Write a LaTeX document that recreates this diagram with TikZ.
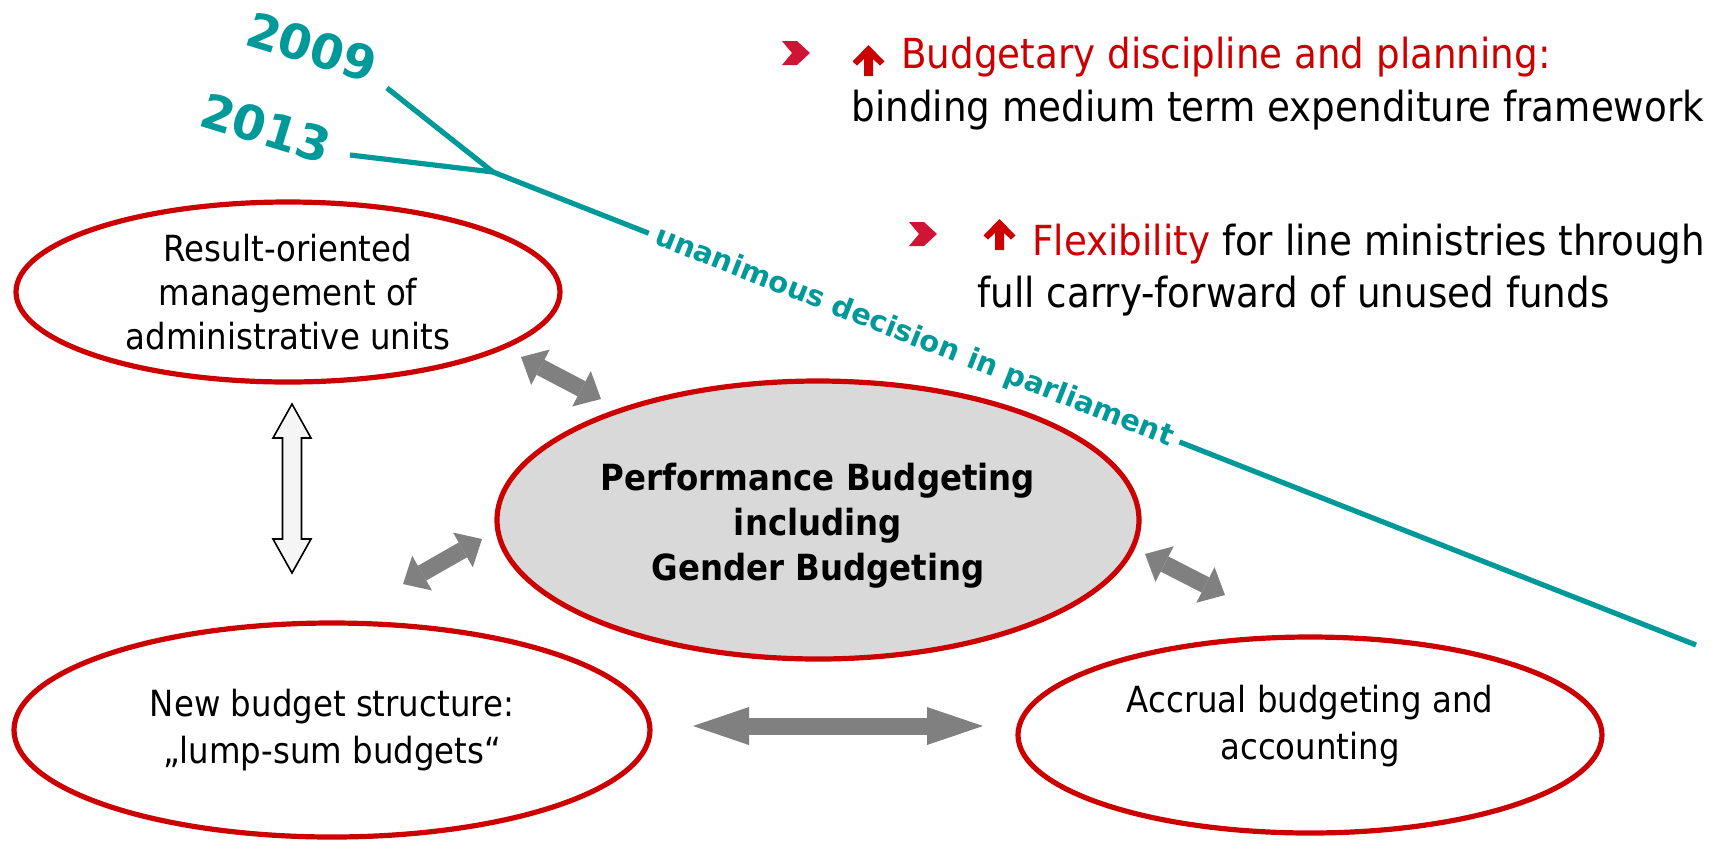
\documentclass[tikz,border=0pt]{standalone}
\usepackage{fontspec}
\setmainfont{DejaVu Sans}[FakeStretch=0.9]
\newfontfamily\widefont{DejaVu Sans}
\usetikzlibrary{arrows.meta,shapes.geometric}

\definecolor{ovalred}{HTML}{CC0000}
\definecolor{chevred}{HTML}{D01436}
\definecolor{parlteal}{HTML}{009999}
\definecolor{coregray}{HTML}{D9D9D9}
\definecolor{linkgray}{HTML}{808080}

\begin{document}
\begin{tikzpicture}[x=0.5pt, y=-0.5pt,
    oval/.style = {draw=ovalred, line width=2.6pt, ellipse, inner sep=0pt, align=center,
                   font=\fontsize{18}{22}\selectfont},
    ovaltext/.style = {align=center, inner sep=0pt, font=\fontsize{18}{23.5}\selectfont},
    link/.style = {linkgray, line width=8.5pt,
                   {Triangle[length=11pt,width=20pt,line width=0pt]}-{Triangle[length=11pt,width=20pt,line width=0pt]}},
    longlink/.style = {link, {Triangle[length=28pt,width=19pt,line width=0pt]}-{Triangle[length=28pt,width=19pt,line width=0pt]}},
    hollow/.style = {draw=black, fill=black!4, line width=0.8pt, line join=miter},
    decision/.style = {parlteal, line width=2.6pt},
    year/.style = {text=parlteal, rotate=-17, font=\widefont\bfseries\fontsize{24}{28}\selectfont},
    point/.style = {anchor=base west, inner sep=0pt, font=\fontsize{20.7}{27.5}\selectfont}]
    \useasboundingbox (0,0) rectangle (1721,843);

    % Ovals
    \node[oval, minimum width=272pt, minimum height=90pt] (result) at (288,292)
        {Result-oriented\\management of\\administrative units};
    \node[oval, fill=coregray, minimum width=321pt, minimum height=139pt] (core) at (818,520) {};
    \node[ovaltext, font=\bfseries\fontsize{18}{22.5}\selectfont] (coretext) at ([yshift=-3pt]core.center)
        {Performance Budgeting\\including\\Gender Budgeting};
    \node[oval, minimum width=318pt, minimum height=107pt, font=\fontsize{18}{23.5}\selectfont] (lump) at (332,730)
        {New budget structure:\\„lump-sum budgets“};
    \node[oval, minimum width=292pt, minimum height=98pt] (accrual) at (1310,735) {};
    \node[ovaltext] (accrualtext) at ([yshift=4.5pt]accrual.center) {Accrual budgeting and\\accounting};

    % Links between the reforms
    \coordinate (l1a) at (521,357);  \coordinate (l1b) at (601,399);
    \coordinate (l2a) at (403,584);  \coordinate (l2b) at (482,539);
    \coordinate (l3a) at (693,726);  \coordinate (l3b) at (983,726);
    \coordinate (l4a) at (1145,554); \coordinate (l4b) at (1225,595);
    \draw[link] (l1a) -- (l1b);
    \draw[link] (l2a) -- (l2b);
    \draw[longlink] (l3a) -- (l3b);
    \draw[link] (l4a) -- (l4b);

    \coordinate (vtop) at (292,404);
    \draw[hollow] (vtop) -- ++(19,34) -- ++(-9.5,0) -- ++(0,101) -- ++(9.5,0) -- ++(-19,34)
        -- ++(-19,-34) -- ++(9.5,0) -- ++(0,-101) -- ++(-9.5,0) -- cycle;

    % Parliament decisions
    \node[year] (y09) at (312,47) {2009};
    \node[year] (y13) at (266,128) {2013};
    \coordinate (s09) at (387,88);
    \coordinate (s13) at (350,155);
    \coordinate (fork) at (493,172);
    \coordinate (tail) at (1696,645);
    \draw[decision] (s09) -- (fork);
    \draw[decision] (s13) -- (fork);
    \draw[decision] (fork) -- node[pos=0.35, sloped, fill=white, inner sep=4pt, text=parlteal,
        font=\widefont\bfseries\fontsize{14.5}{17}\selectfont] {unanimous decision in parliament} (tail);

    % Effects
    \fill[chevred] (782,41) -- ++(15,0) -- ++(13,12) -- ++(-13,12) -- ++(-15,0) -- ++(10,-12) -- cycle;
    \fill[ovalred] (868.5,45) -- ++(16,16.5) -- ++(-4.5,4) -- ++(-7,-6.5) -- ++(0,17) -- ++(-9,0)
        -- ++(0,-17) -- ++(-7,6.5) -- ++(-4.5,-4) -- cycle;
    \node[point, text=ovalred] (b1a) at (901,68) {Budgetary discipline and planning:};
    \node[point] (b1b) at (851,121) {binding medium term expenditure framework};

    \fill[chevred] (909,222) -- ++(15,0) -- ++(13,12) -- ++(-13,12) -- ++(-15,0) -- ++(10,-12) -- cycle;
    \fill[ovalred] (999.5,219) -- ++(16,16.5) -- ++(-4.5,4) -- ++(-7,-6.5) -- ++(0,17) -- ++(-9,0)
        -- ++(0,-17) -- ++(-7,6.5) -- ++(-4.5,-4) -- cycle;
    \node[point] (b2a) at (1032,255) {\textcolor{ovalred}{Flexibility} for line ministries through};
    \node[point] (b2b) at (977,307) {full carry-forward of unused funds};
\end{tikzpicture}
\end{document}
